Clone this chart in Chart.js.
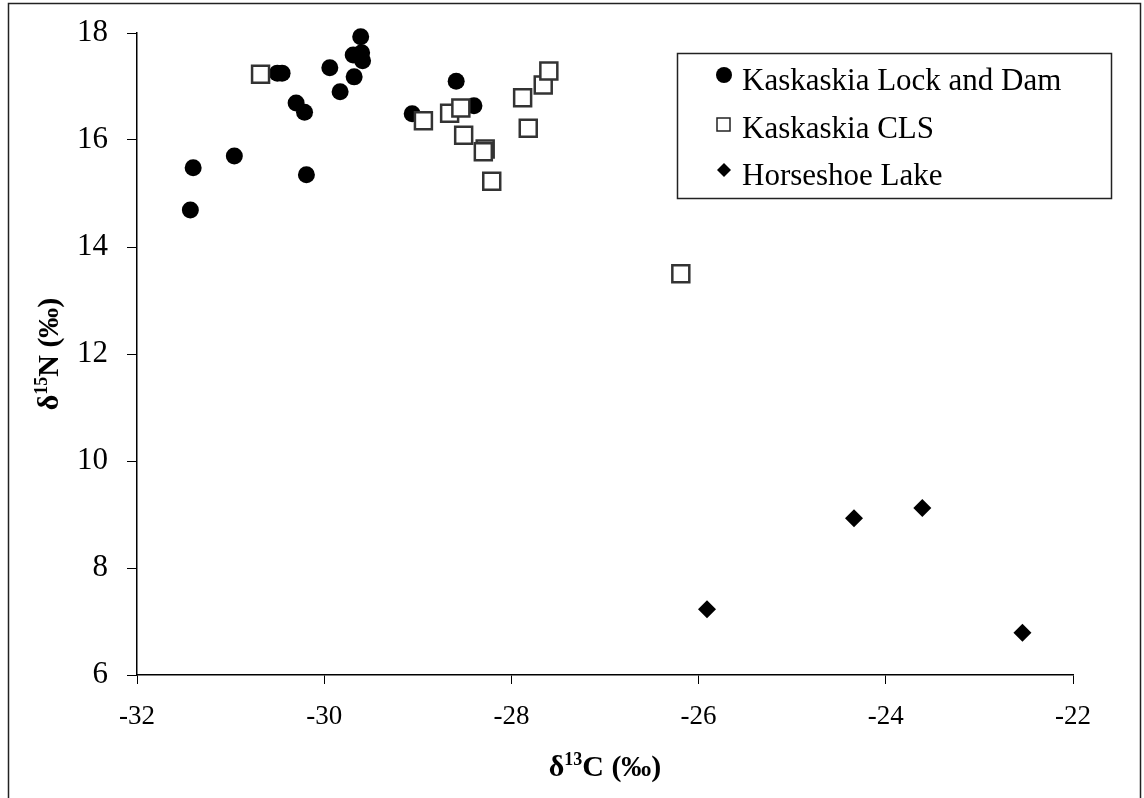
<!DOCTYPE html>
<html>
<head>
<meta charset="utf-8">
<script src="https://cdn.jsdelivr.net/npm/chart.js@4.4.1/dist/chart.umd.min.js"></script>
<style>
  html, body { margin: 0; padding: 0; background: #fff; }
  canvas { display: block; }
</style>
</head>
<body>
<canvas id="myChart" width="1144" height="798"></canvas>
<script>
// series names
const seriesNames = ['Kaskaskia Lock and Dam', 'Kaskaskia CLS', 'Horseshoe Lake']

// Kaskaskia Lock and Dam (filled circles)
const lockC = [-31.43, -31.40, -30.96, -30.19, -30.30, -30.21, -30.50, -30.45, -29.94,
  -29.61, -29.69, -29.60, -29.59, -29.68, -29.83, -28.59, -29.06, -28.40]
const lockN = [14.69, 15.48, 15.70, 15.35, 16.69, 16.52, 17.25, 17.25, 17.35,
  17.93, 17.59, 17.63, 17.48, 17.18, 16.90, 17.10, 16.49, 16.64]

// Kaskaskia CLS (open squares)
const clsC = [-30.68, -28.94, -28.66, -28.54, -28.51, -28.28, -28.30, -28.21,
  -27.88, -27.82, -27.66, -27.60, -26.19]
const clsN = [17.23, 16.36, 16.50, 16.60, 16.09, 15.83, 15.78, 15.23,
  16.79, 16.22, 17.03, 17.29, 13.50]

// Horseshoe Lake (diamonds)
const hsC = [-25.91, -24.34, -23.61, -22.54]
const hsN = [7.23, 8.93, 9.12, 6.79]

// axis ticks
const xTicks = [-32, -30, -28, -26, -24, -22]
const yTicks = [6, 8, 10, 12, 14, 16, 18]

const toXY = (xs, ys) => xs.map((x, i) => ({ x: x, y: ys[i] }))

const SERIF = '"Liberation Serif", "Times New Roman", serif'

// draws "δ" + superscript + rest centred on cx, cy
function drawRichTitle(ctx, parts, cx, cy, rotate) {
  ctx.save()
  ctx.translate(cx, cy)
  if (rotate) ctx.rotate(-Math.PI / 2)
  const big = 'bold 30px ' + SERIF
  const small = 'bold 18px ' + SERIF
  let total = 0
  parts.forEach(p => {
    ctx.font = p.sup ? small : big
    p.w = ctx.measureText(p.t).width
    total += p.w
  })
  let x = -total / 2
  ctx.fillStyle = '#000'
  ctx.textBaseline = 'alphabetic'
  parts.forEach(p => {
    ctx.font = p.sup ? small : big
    ctx.fillText(p.t, x, p.sup ? -1 : 10)
    x += p.w
  })
  ctx.restore()
}

const decorPlugin = {
  id: 'decor',
  beforeDraw(chart) {
    const ctx = chart.ctx
    ctx.save()
    ctx.fillStyle = '#fff'
    ctx.fillRect(0, 0, chart.width, chart.height)
    ctx.strokeStyle = '#222'
    ctx.lineWidth = 1.5
    ctx.strokeRect(8.5, 3.5, 1132, 810)
    ctx.restore()
  },
  afterDraw(chart) {
    const ctx = chart.ctx
    const a = chart.chartArea
    // axis titles
    drawRichTitle(ctx, [{ t: 'δ' }, { t: '13', sup: true }, { t: 'C (‰)' }],
      (a.left + a.right) / 2, 766, false)
    drawRichTitle(ctx, [{ t: 'δ' }, { t: '15', sup: true }, { t: 'N (‰)' }],
      48, (a.top + a.bottom) / 2, true)

    // legend box
    ctx.save()
    ctx.strokeStyle = '#222'
    ctx.lineWidth = 1.5
    ctx.strokeRect(677.5, 53.5, 434, 145)
    ctx.font = '31px ' + SERIF
    ctx.fillStyle = '#000'
    ctx.textBaseline = 'middle'
    const rows = [82, 130, 177]
    seriesNames.forEach((name, i) => {
      const my = rows[i] - 7
      const mx = 724
      ctx.beginPath()
      if (i === 0) {
        ctx.arc(mx, my, 8, 0, Math.PI * 2)
        ctx.fillStyle = '#000'
        ctx.fill()
      } else if (i === 1) {
        ctx.fillStyle = '#fff'
        ctx.rect(mx - 7, my - 5, 13, 13)
        ctx.fill()
        ctx.lineWidth = 1.5
        ctx.strokeStyle = '#222'
        ctx.stroke()
      } else {
        ctx.moveTo(mx - 7, my)
        ctx.lineTo(mx, my - 7)
        ctx.lineTo(mx + 7, my)
        ctx.lineTo(mx, my + 7)
        ctx.closePath()
        ctx.fillStyle = '#000'
        ctx.fill()
      }
      ctx.fillStyle = '#000'
      ctx.fillText(name, 742, rows[i])
    })
    ctx.restore()
  }
}

const ctx = document.getElementById('myChart').getContext('2d')
const config = {
  type: 'scatter',
  data: {
    datasets: [
      {
        label: seriesNames[0],
        data: toXY(lockC, lockN),
        pointStyle: 'circle',
        pointRadius: 8.5,
        pointBackgroundColor: '#000',
        pointBorderColor: '#000',
        pointBorderWidth: 0,
        clip: false,
        order: 2,
      },
      {
        label: seriesNames[1],
        data: toXY(clsC, clsN),
        pointStyle: 'rect',
        pointRadius: 12,
        pointBackgroundColor: '#fff',
        pointBorderColor: '#333',
        pointBorderWidth: 2.5,
        clip: false,
        order: 1,
      },
      {
        label: seriesNames[2],
        data: toXY(hsC, hsN),
        pointStyle: 'rectRot',
        pointRadius: 9,
        pointBackgroundColor: '#000',
        pointBorderColor: '#000',
        pointBorderWidth: 0,
        clip: false,
        order: 0,
      },
    ],
  },
  options: {
    responsive: false,
    animation: false,
    events: [],
    layout: { padding: { left: 0, right: 71, top: 33, bottom: 0 } },
    plugins: {
      legend: { display: false },
      tooltip: { enabled: false },
    },
    scales: {
      x: {
        type: 'linear',
        min: -32,
        max: -22,
        afterBuildTicks: (s) => { s.ticks = xTicks.map(v => ({ value: v })) },
        afterFit: (s) => { s.height = 123; s.paddingLeft = 0; s.paddingRight = 0 },
        grid: { drawOnChartArea: false, tickLength: 9, color: '#000', lineWidth: 1 },
        border: { color: '#000', width: 1.5 },
        ticks: { color: '#000', font: { family: SERIF, size: 27 }, padding: 17, maxRotation: 0 },
      },
      y: {
        type: 'linear',
        min: 6,
        max: 18,
        afterBuildTicks: (s) => { s.ticks = yTicks.map(v => ({ value: v })) },
        afterFit: (s) => { s.width = 137; s.paddingTop = 0; s.paddingBottom = 0 },
        grid: { drawOnChartArea: false, tickLength: 10, color: '#000', lineWidth: 1 },
        border: { color: '#000', width: 1.5 },
        ticks: { color: '#000', font: { family: SERIF, size: 31 }, padding: 19 },
      },
    },
  },
  plugins: [decorPlugin],
}
const myChart = new Chart(ctx, config)
</script>
</body>
</html>
